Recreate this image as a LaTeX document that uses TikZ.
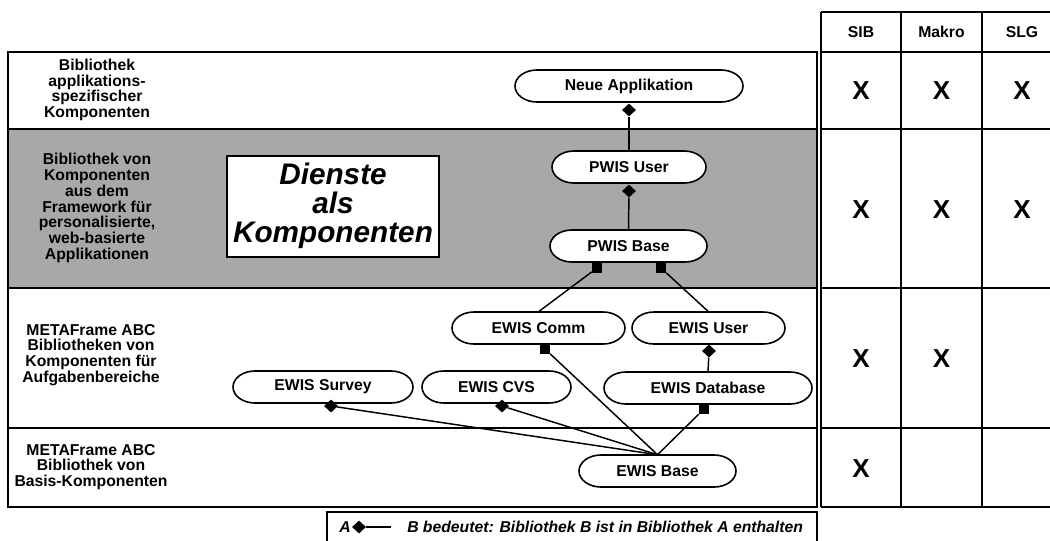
\documentclass[tikz,border=0pt]{standalone}
\usepackage{fontspec}
\setmainfont{Liberation Sans}
\usetikzlibrary{shapes.geometric,calc}

\definecolor{panelgray}{RGB}{168,168,168}

% pill-shaped library node: name, centre x, centre y, half width, label
\newcommand\libpill[5]{%
  \pgfmathsetmacro\pillL{#2-#4}\pgfmathsetmacro\pillR{#2+#4}%
  \pgfmathsetmacro\pillT{#3-16}\pgfmathsetmacro\pillB{#3+16}%
  \pgfmathsetmacro\pillLi{#2-#4+22}\pgfmathsetmacro\pillRi{#2+#4-22}%
  \pgfmathsetmacro\pillLc{#2-#4+22*0.4477}\pgfmathsetmacro\pillRc{#2+#4-22*0.4477}%
  \pgfmathsetmacro\pillTc{#3-8.84}\pgfmathsetmacro\pillBc{#3+8.84}%
  \filldraw[pilledge] (\pillLi,\pillT) -- (\pillRi,\pillT)
    .. controls (\pillRc,\pillT) and (\pillR,\pillTc) .. (\pillR,#3)
    .. controls (\pillR,\pillBc) and (\pillRc,\pillB) .. (\pillRi,\pillB)
    -- (\pillLi,\pillB)
    .. controls (\pillLc,\pillB) and (\pillL,\pillBc) .. (\pillL,#3)
    .. controls (\pillL,\pillTc) and (\pillLc,\pillT) .. (\pillLi,\pillT) -- cycle;
  \node[pilltext, minimum width={1.5*#4*1pt}] (#1) at (#2,#3) {#5};
}

\tikzset{
  pilledge/.style={fill=white, draw=black, line width=1.2pt},
  pilltext/.style={rectangle, inner sep=0pt, minimum height=24pt,
    font=\fontsize{11.8}{11.8}\selectfont\bfseries},
  frameline/.style={line width=1.6pt},
  tableline/.style={line width=1.2pt},
  link/.style={line width=1.1pt},
  dmd/.style={diamond, fill=black, inner sep=0pt, minimum width=10.5pt, minimum height=9.8pt},
  sqr/.style={rectangle, fill=black, inner sep=0pt, minimum size=7.5pt},
  rowlabel/.style={align=center, inner sep=0pt,
    font=\fontsize{11.8}{11.85}\selectfont\bfseries},
  colhead/.style={inner sep=0pt, font=\fontsize{11.8}{11.8}\selectfont\bfseries},
  tickmark/.style={inner sep=0pt, font=\fontsize{19.5}{19.5}\selectfont\bfseries},
  bigtitle/.style={align=center, inner sep=0pt,
    font=\fontsize{22.3}{21.6}\selectfont\bfseries\itshape},
  legendtext/.style={inner sep=0pt, anchor=base west,
    font=\fontsize{11.8}{11.8}\selectfont\bfseries\itshape},
}

\begin{document}
\begin{tikzpicture}[x=0.75pt, y=-0.75pt]
\useasboundingbox (0,0) rectangle (1050,540);
\clip (0,0) rectangle (1050,540);

% library layers
\fill[panelgray] (8,129) rectangle (817,288);
\draw[frameline] (8,52) rectangle (817,507);
\draw[frameline] (8,129) -- (817,129);
\draw[frameline] (8,288) -- (817,288);
\draw[frameline] (8,428) -- (817,428);

\node[rowlabel] (l1) at (97,90) {Bibliothek\\applikations-\\spezifischer\\Komponenten};
\node[rowlabel] (l2) at (97,208) {Bibliothek von\\Komponenten\\aus dem\\Framework für\\personalisierte,\\web-basierte\\Applikationen};
\node[rowlabel] (l3) at (91,355) {METAFrame ABC\\Bibliotheken von\\Komponenten für\\Aufgabenbereiche};
\node[rowlabel] (l4) at (91,467) {METAFrame ABC\\Bibliothek von\\Basis-Komponenten};

% services box
\draw[frameline, fill=white] (227,156) rectangle (439,257);
\node[bigtitle] (dienste) at (333,206) {Dienste\\als\\Komponenten};

% libraries
\libpill{neue}{629}{86}{114}{Neue Applikation}
\libpill{pwisuser}{629}{167}{77}{PWIS User}
\libpill{pwisbase}{628.5}{246}{78.5}{PWIS Base}
\libpill{ewiscomm}{538.5}{328}{86.5}{EWIS Comm}
\libpill{ewisuser}{708.5}{328}{76.5}{EWIS User}
\libpill{survey}{323}{387}{90}{EWIS Survey}
\libpill{cvs}{496.5}{387}{74.5}{EWIS CVS}
\libpill{database}{708}{388}{104}{EWIS Database}
\libpill{ewisbase}{657.5}{471}{78.5}{EWIS Base}

% connector end markers
\node[dmd] (m1) at (629,110) {};
\node[dmd] (m2) at (629,191) {};
\node[sqr] (m3) at (597,268) {};
\node[sqr] (m4) at (661,268) {};
\node[sqr] (m5) at (545,349) {};
\node[dmd] (m6) at (709,351) {};
\node[dmd] (m7) at (331,406) {};
\node[dmd] (m8) at (502,406) {};
\node[sqr] (m9) at (704,409) {};

% containment links
\draw[link] (m1) -- (pwisuser.north);
\draw[link] (m2) -- (pwisbase.north);
\draw[link] (m3) -- (ewiscomm.north);
\draw[link] (m4) -- (ewisuser.north);
\draw[link] (m6) -- (database.north);
\draw[link] (m5) -- (ewisbase.north);
\draw[link] (m7) -- (ewisbase.north);
\draw[link] (m8) -- (ewisbase.north);
\draw[link] (m9) -- (ewisbase.north);

% availability table
\draw[tableline] (821,12) -- (1063,12);
\foreach \yy in {52,129,288,428,507} \draw[tableline] (821,\yy) -- (1063,\yy);
\foreach \xx in {821,901,982,1063} \draw[tableline] (\xx,12) -- (\xx,507);
\node[colhead] (hsib) at (861,32) {SIB};
\node[colhead] (hmak) at (941.5,32) {Makro};
\node[colhead] (hslg) at (1022,32) {SLG};
\node[tickmark] (x11) at (861,91) {X};
\node[tickmark] (x12) at (941.5,91) {X};
\node[tickmark] (x13) at (1022,91) {X};
\node[tickmark] (x21) at (861,210) {X};
\node[tickmark] (x22) at (941.5,210) {X};
\node[tickmark] (x23) at (1022,210) {X};
\node[tickmark] (x31) at (861,359) {X};
\node[tickmark] (x32) at (941.5,359) {X};
\node[tickmark] (x41) at (861,469) {X};

% legend
\draw[frameline] (327,546) -- (327,512) -- (817,512) -- (817,546);
\node[legendtext] (la) at (339,532) {A};
\node[dmd] (ld) at (359,527) {};
\coordinate (lend) at (391,527);
\draw[link] (ld) -- (lend);
\node[legendtext] (lb) at (407,532) {B bedeutet: Bibliothek B ist in Bibliothek A enthalten};
\end{tikzpicture}
\end{document}
